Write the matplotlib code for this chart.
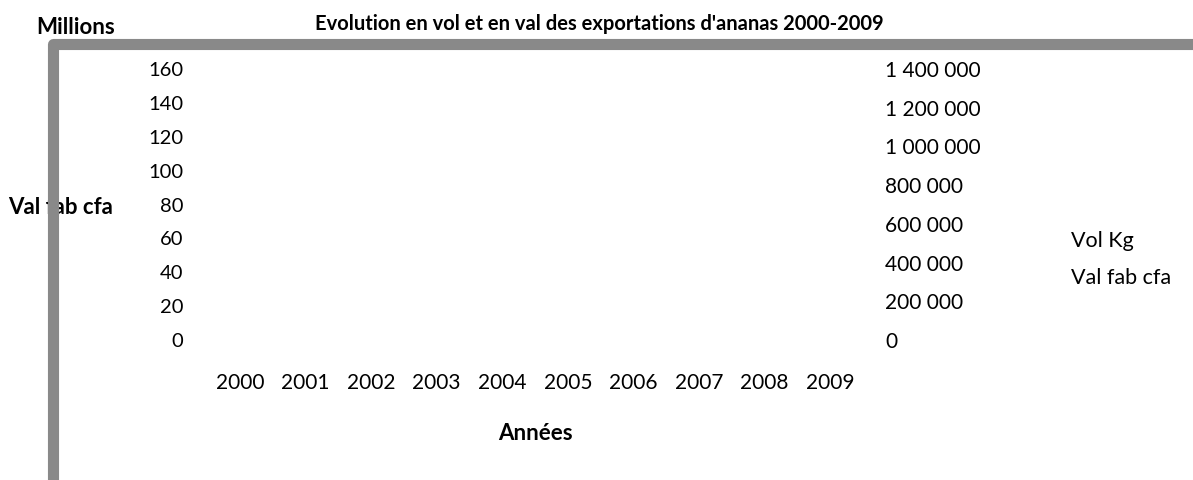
import matplotlib
matplotlib.use("Agg")
import matplotlib.pyplot as plt
from matplotlib.lines import Line2D

plt.rcParams['font.family'] = ['Lato', 'DejaVu Sans']

years = ["2000", "2001", "2002", "2003", "2004", "2005", "2006", "2007", "2008", "2009"]
series_names = ["Vol Kg", "Val fab cfa"]
left_ticks = [0, 20, 40, 60, 80, 100, 120, 140, 160]
right_ticks = [0, 200000, 400000, 600000, 800000, 1000000, 1200000, 1400000]

W, H = 1193, 480
fig = plt.figure(figsize=(W / 100, H / 100), dpi=100)
fig.patch.set_facecolor("white")

def fx(px):
    return px / W

def fy(py):
    return 1 - py / H

ax = fig.add_axes([fx(207), fy(340), fx(863) - fx(207), fy(69) - fy(340)])
ax.set_xlim(-0.5, len(years) - 0.5)
ax.set_ylim(0, 160)
ax.set_xticks(range(len(years)))
ax.set_xticklabels(years)
ax.set_yticks(left_ticks)
ax.set_yticklabels([str(v) for v in left_ticks])
for s in ax.spines.values():
    s.set_visible(False)
ax.tick_params(axis='both', length=0, colors='black')
ax.tick_params(axis='y', pad=17, labelsize=14.5)
ax.tick_params(axis='x', pad=24, labelsize=15)
ax.set_xlabel("Années", fontsize=16, fontweight='bold', labelpad=21)

ax2 = ax.twinx()
ax2.set_ylim(0, 1400000)
ax2.set_yticks(right_ticks)
ax2.set_yticklabels([f"{v:,}".replace(",", " ") for v in right_ticks])
for s in ax2.spines.values():
    s.set_visible(False)
ax2.tick_params(axis='y', length=0, labelsize=15, pad=16, colors='black')

fig.text(fx(599), fy(24), "Evolution en vol et en val des exportations d'ananas 2000-2009",
         ha='center', va='center', fontsize=14.5, fontweight='bold')
fig.text(fx(76), fy(28), "Millions", ha='center', va='center', fontsize=16, fontweight='bold')
fig.text(fx(8), fy(208), "Val fab cfa", ha='left', va='center', fontsize=16, fontweight='bold')

handles = [Line2D([], [], linestyle='none') for _ in series_names]
fig.legend(handles, series_names, loc='upper left', bbox_to_anchor=(fx(1052), fy(212)),
           frameon=False, handlelength=0, handletextpad=0, fontsize=15.5, labelspacing=0.75)

border = Line2D([fx(52.5), fx(52.5), fx(1200)], [fy(490), fy(43.5), fy(43.5)],
                transform=fig.transFigure, color='#898989', linewidth=8,
                solid_joinstyle='round', solid_capstyle='butt', zorder=10)
fig.add_artist(border)

fig.savefig("out.png", dpi=100)
